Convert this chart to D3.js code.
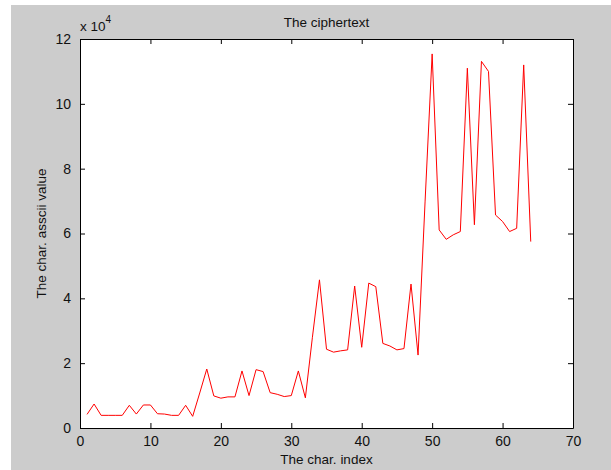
<!DOCTYPE html>
<html>
<head>
<meta charset="utf-8">
<script src="https://cdn.jsdelivr.net/npm/d3@7"></script>
<style>
  body { margin: 0; background: #fff; }
  text { font-family: "Liberation Sans", Arial, sans-serif; fill: #111; }
</style>
</head>
<body>
<script>
// char index 1..64 and the cipher values
const charIndex = d3.range(1, 65);
const cipherValues = [
    4200, 7400, 3900, 3900, 3900, 3900, 7000, 4300, 7100, 7100,
    4400, 4300, 3900, 3900, 7000, 3600, 10800, 18200, 9900, 9200,
    9600, 9600, 17600, 10000, 18000, 17400, 10900, 10400, 9700, 10000,
    17600, 9300, 28000, 45700, 24300, 23400, 23800, 24100, 43800, 24900,
    44700, 43600, 26100, 25300, 24100, 24500, 44400, 22500, 70000, 115400,
    61100, 58200, 59600, 60600, 111000, 62700, 113100, 110000, 65700, 63700,
    60600, 61600, 112000, 57500
];
const xTicks = [0, 10, 20, 30, 40, 50, 60, 70];
const yTicks = [0, 20000, 40000, 60000, 80000, 100000, 120000];

const W = 611, H = 470;
const margin = { top: 39, right: 38, bottom: 42, left: 80 };
const width = W - margin.left - margin.right;
const height = H - margin.top - margin.bottom;

const svg = d3.select("body").append("svg")
    .attr("width", W)
    .attr("height", H);

// figure background (grey, with the white strip at left/top)
svg.append("rect")
    .attr("x", 11).attr("y", 5)
    .attr("width", W - 11).attr("height", H - 5)
    .attr("fill", "#cccccc");

const g = svg.append("g")
    .attr("transform", `translate(${margin.left},${margin.top})`);

const x = d3.scaleLinear().domain([0, 70]).range([0, width]);
const y = d3.scaleLinear().domain([0, 120000]).range([height, 0]);

g.append("rect")
    .attr("width", width).attr("height", height)
    .attr("fill", "#fff");

// axes, ticks pointing inward like matlab
const axisStyle = sel => {
    sel.select(".domain").attr("stroke", "#000");
    sel.selectAll(".tick line").attr("stroke", "#000");
    sel.selectAll("text").style("font-size", "14px").attr("fill", "#111");
};

g.append("g")
    .attr("transform", `translate(0,${height})`)
    .call(d3.axisBottom(x).tickValues(xTicks).tickSize(-5).tickSizeOuter(0).tickPadding(8))
    .call(axisStyle);

g.append("g")
    .call(d3.axisLeft(y).tickValues(yTicks).tickSize(-5).tickSizeOuter(0).tickPadding(9)
        .tickFormat(d => d / 10000))
    .call(axisStyle);

g.append("g")
    .call(d3.axisTop(x).tickValues(xTicks).tickSize(-5).tickSizeOuter(0).tickFormat(""))
    .call(axisStyle);

g.append("g")
    .attr("transform", `translate(${width},0)`)
    .call(d3.axisRight(y).tickValues(yTicks).tickSize(-5).tickSizeOuter(0).tickFormat(""))
    .call(axisStyle);

// the line
const line = d3.line()
    .x((d, i) => x(charIndex[i]))
    .y(d => y(d));

g.append("path")
    .datum(cipherValues)
    .attr("fill", "none")
    .attr("stroke", "#ff0000")
    .attr("stroke-width", 1)
    .attr("d", line);

// labels
svg.append("text")
    .attr("x", margin.left + width / 2)
    .attr("y", 27)
    .attr("text-anchor", "middle")
    .style("font-size", "13.5px")
    .text("The ciphertext");

svg.append("text")
    .attr("x", margin.left + width / 2)
    .attr("y", 464)
    .attr("text-anchor", "middle")
    .style("font-size", "13.5px")
    .text("The char. index");

svg.append("text")
    .attr("transform", `translate(46,${margin.top + height / 2}) rotate(-90)`)
    .attr("text-anchor", "middle")
    .style("font-size", "13.5px")
    .text("The char. asscii value");

// exponent label
const expo = svg.append("text")
    .attr("x", 80)
    .attr("y", 31)
    .style("font-size", "13.5px");
expo.append("tspan").text("x 10");
expo.append("tspan").attr("dy", -8).style("font-size", "10px").text("4");
</script>
</body>
</html>
